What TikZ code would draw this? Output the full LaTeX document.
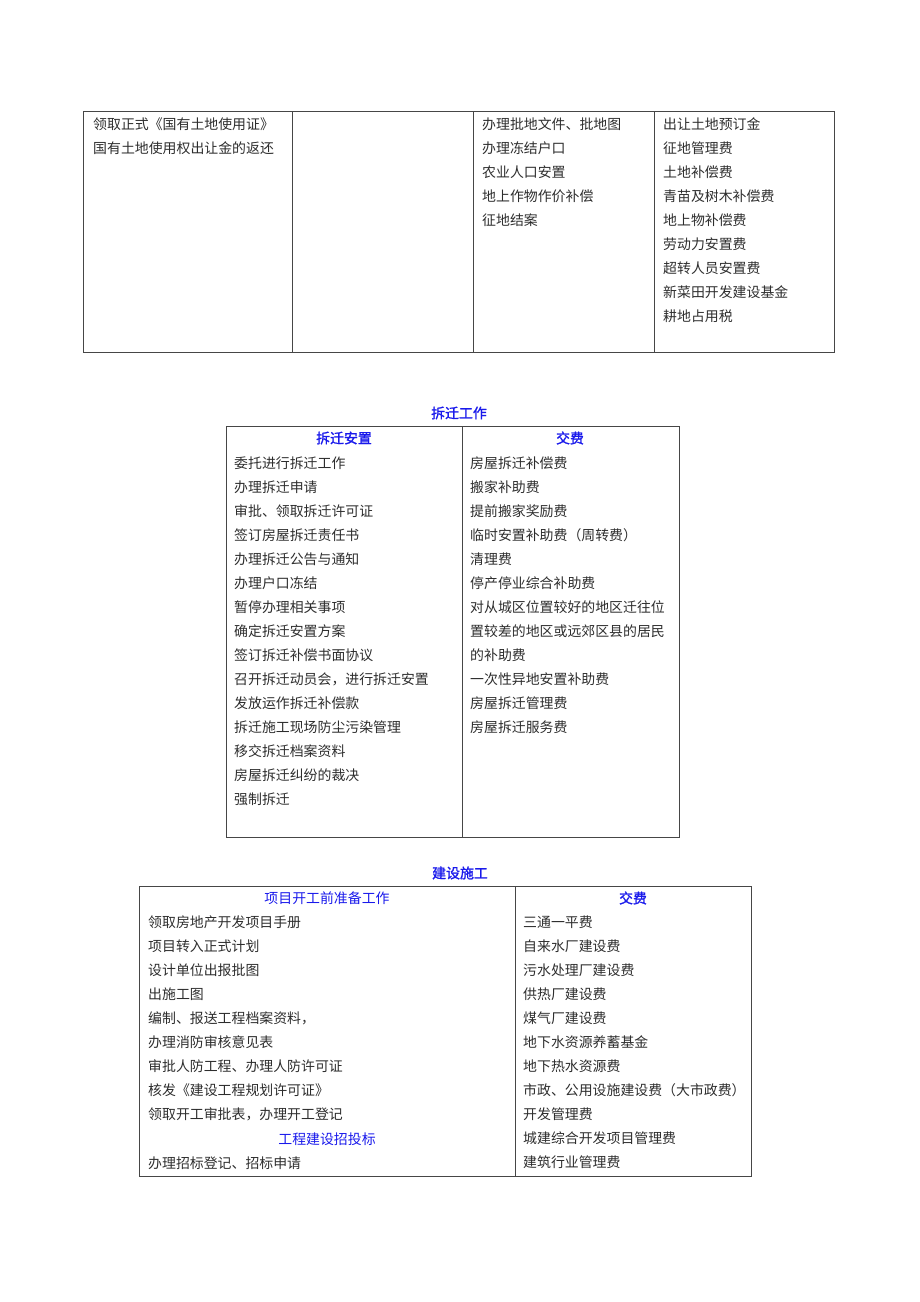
\documentclass[tikz,border=0pt]{standalone}
\usepackage{fontspec}
\newfontfamily\cjk{Noto Sans CJK SC}
\newfontfamily\cjkb{Noto Sans CJK SC}[FakeBold=1.5]
\usepackage{tikz}
\definecolor{HeadBlue}{RGB}{25,25,235}
\definecolor{ItemGray}{RGB}{45,45,45}
\definecolor{RuleGray}{RGB}{70,70,70}

\begin{document}
\begin{tikzpicture}[x=1pt,y=-1pt,
  item/.style={anchor=west,inner sep=0pt,text=ItemGray,font=\cjk\fontsize{13.9}{16}\selectfont},
  head/.style={inner sep=0pt,text=HeadBlue,font=\cjkb\fontsize{13.9}{16}\selectfont},
  subhead/.style={inner sep=0pt,text=HeadBlue,font=\cjk\fontsize{13.9}{16}\selectfont},
  rule/.style={draw=RuleGray,line width=1pt}]
\useasboundingbox (0,0) rectangle (920,1302);
% land table
\draw[rule] (83,111) rectangle (834,352);
\foreach \x in {292,473,654} {
   \draw[rule] (\x,111) -- (\x,352);
}
\foreach \t [count=\i] in {领取正式《国有土地使用证》,国有土地使用权出让金的返还} {
   \node[item] (la\i) at (93,100+24*\i) {\t};
}
\foreach \t [count=\i] in {办理批地文件、批地图,办理冻结户口,农业人口安置,地上作物作价补偿,征地结案} {
   \node[item] (lc\i) at (482,100+24*\i) {\t};
}
\foreach \t [count=\i] in {出让土地预订金,征地管理费,土地补偿费,青苗及树木补偿费,地上物补偿费,劳动力安置费,超转人员安置费,新菜田开发建设基金,耕地占用税} {
   \node[item] (ld\i) at (663,100+24*\i) {\t};
}
% demolition table
\node[head] (chai) at (459,413) {拆迁工作};
\draw[rule] (226,426) rectangle (679,837);
\draw[rule] (462,426) -- (462,837);
\node[head] (chaiL) at (344,438) {拆迁安置};
\node[head] (chaiR) at (570,438) {交费};
\foreach \t [count=\i] in {委托进行拆迁工作,办理拆迁申请,审批、领取拆迁许可证,签订房屋拆迁责任书,办理拆迁公告与通知,办理户口冻结,暂停办理相关事项,确定拆迁安置方案,签订拆迁补偿书面协议,召开拆迁动员会，进行拆迁安置,发放运作拆迁补偿款,拆迁施工现场防尘污染管理,移交拆迁档案资料,房屋拆迁纠纷的裁决,强制拆迁} {
   \node[item] (ca\i) at (234,439+24*\i) {\t};
}
\foreach \t [count=\i] in {房屋拆迁补偿费,搬家补助费,提前搬家奖励费,临时安置补助费（周转费）,清理费,停产停业综合补助费,对从城区位置较好的地区迁往位,置较差的地区或远郊区县的居民,的补助费,一次性异地安置补助费,房屋拆迁管理费,房屋拆迁服务费} {
   \node[item] (cb\i) at (470,439+24*\i) {\t};
}
% construction table
\node[head] (jian) at (460,873) {建设施工};
\draw[rule] (139,886) rectangle (751,1176);
\draw[rule] (515,886) -- (515,1176);
\node[subhead] (jianL) at (327,898) {项目开工前准备工作};
\node[head] (jianR) at (633,898) {交费};
\foreach \t [count=\i] in {领取房地产开发项目手册,项目转入正式计划,设计单位出报批图,出施工图,编制、报送工程档案资料，,办理消防审核意见表,审批人防工程、办理人防许可证,核发《建设工程规划许可证》,领取开工审批表，办理开工登记} {
   \node[item] (ja\i) at (148,898+24*\i) {\t};
}
\node[subhead] (zhao) at (327,1139) {工程建设招投标};
\node[item] (ja10) at (148,1163) {办理招标登记、招标申请};
\foreach \t [count=\i] in {三通一平费,自来水厂建设费,污水处理厂建设费,供热厂建设费,煤气厂建设费,地下水资源养蓄基金,地下热水资源费,市政、公用设施建设费（大市政费）,开发管理费,城建综合开发项目管理费,建筑行业管理费} {
   \node[item] (jb\i) at (523,898+24*\i) {\t};
}
\end{tikzpicture}
\end{document}
